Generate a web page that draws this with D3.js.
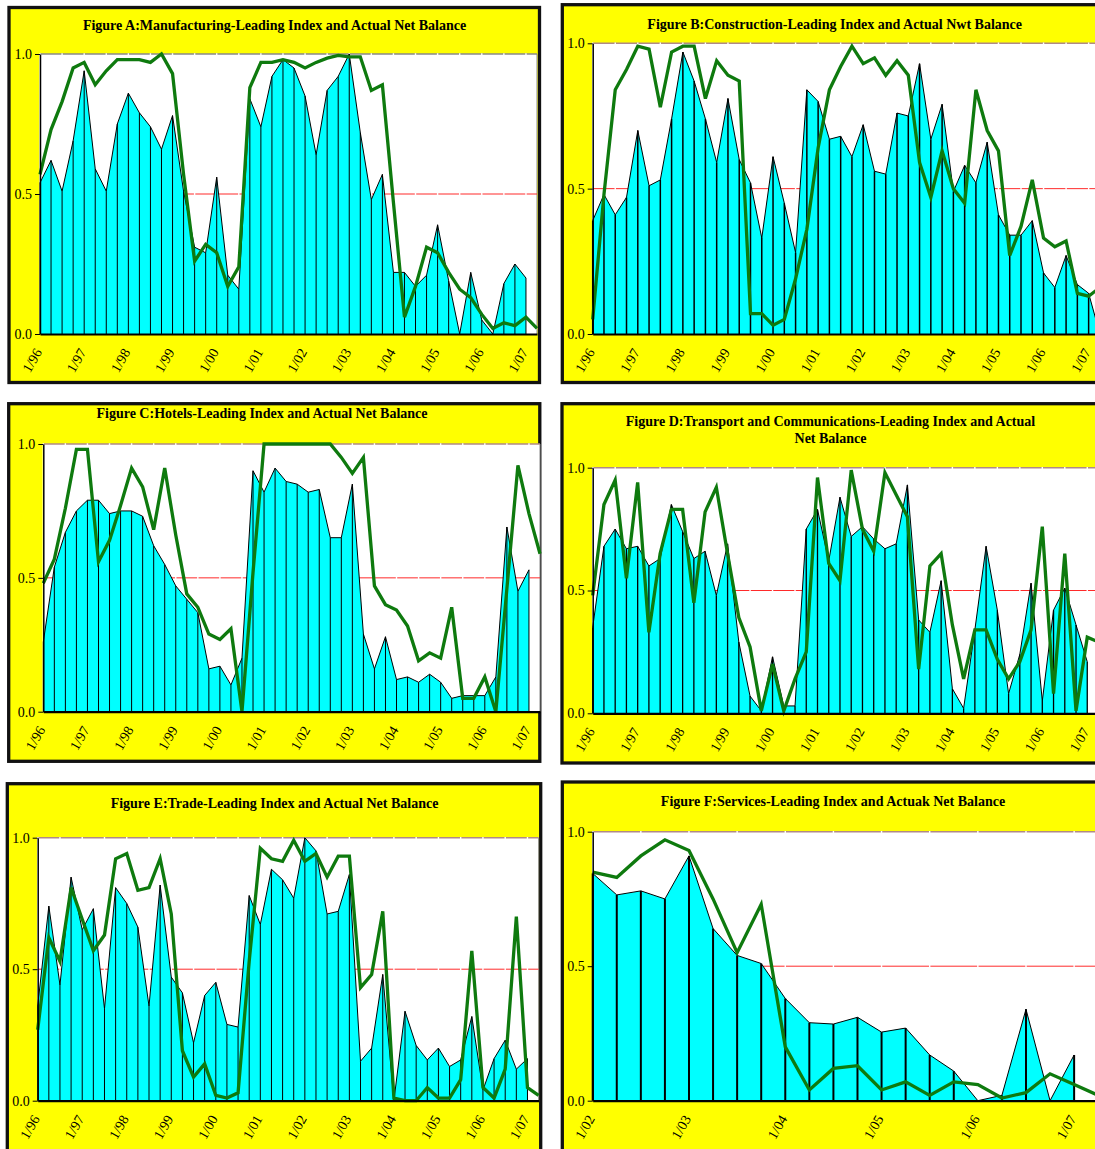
<!DOCTYPE html>
<html>
<head>
<meta charset="utf-8">
<script src="https://cdn.jsdelivr.net/npm/d3@7"></script>
<style>
  body { margin: 0; background: #fff; }
  svg text { font-family: "Liberation Serif", "Times New Roman", serif; fill: #000; }
</style>
</head>
<body>
<svg id="chart" width="1095" height="1149"></svg>
<script>
// Tick labels (quarterly series, a label every 4th quarter)
const labels96 = ["1/96", "1/97", "1/98", "1/99", "1/00", "1/01", "1/02", "1/03", "1/04", "1/05", "1/06", "1/07"];
const labels02 = ["1/02", "1/03", "1/04", "1/05", "1/06", "1/07"];

// Actual net balance (cyan area) and leading index (green line) for each figure
const areaA = [0.54,0.62,0.51,0.69,0.94,0.59,0.51,0.75,0.86,0.79,0.74,0.66,0.78,0.51,0.31,0.29,0.56,0.21,0.16,0.84,0.74,0.92,0.98,0.95,0.85,0.64,0.87,0.92,1.0,0.72,0.48,0.57,0.22,0.22,0.17,0.21,0.39,0.19,0.0,0.22,0.05,0.0,0.18,0.25,0.20];
const lineA = [0.57,0.73,0.83,0.95,0.97,0.89,0.94,0.98,0.98,0.98,0.97,1.0,0.93,0.57,0.26,0.32,0.29,0.17,0.24,0.88,0.97,0.97,0.98,0.97,0.95,0.97,0.985,0.995,0.99,0.99,0.87,0.89,0.47,0.06,0.17,0.31,0.29,0.22,0.16,0.13,0.07,0.02,0.04,0.03,0.06,0.02];

const areaB = [0.39,0.48,0.41,0.47,0.70,0.51,0.53,0.74,0.97,0.87,0.74,0.59,0.81,0.60,0.52,0.33,0.61,0.45,0.28,0.84,0.80,0.67,0.68,0.61,0.72,0.56,0.55,0.76,0.75,0.93,0.67,0.79,0.49,0.58,0.52,0.66,0.41,0.34,0.34,0.39,0.21,0.16,0.27,0.17,0.14,0.0];
const lineB = [0.05,0.48,0.84,0.91,0.99,0.98,0.78,0.97,0.99,0.99,0.81,0.94,0.89,0.87,0.07,0.07,0.03,0.05,0.19,0.36,0.64,0.84,0.92,0.99,0.93,0.95,0.89,0.94,0.89,0.59,0.47,0.63,0.50,0.45,0.84,0.70,0.63,0.27,0.37,0.53,0.33,0.30,0.32,0.14,0.13,0.16];

const areaC = [0.26,0.54,0.67,0.75,0.79,0.79,0.74,0.75,0.75,0.73,0.62,0.55,0.47,0.42,0.37,0.16,0.17,0.10,0.20,0.90,0.82,0.91,0.86,0.85,0.82,0.83,0.65,0.65,0.85,0.29,0.16,0.28,0.12,0.13,0.11,0.14,0.11,0.05,0.06,0.06,0.06,0.13,0.69,0.45,0.53];
const lineC = [0.48,0.57,0.76,0.98,0.98,0.56,0.64,0.77,0.91,0.84,0.68,0.91,0.66,0.44,0.39,0.29,0.27,0.31,0.0,0.52,1.0,1.0,1.0,1.0,1.0,1.0,1.0,0.95,0.89,0.95,0.47,0.40,0.38,0.32,0.19,0.22,0.20,0.39,0.05,0.05,0.13,0.0,0.46,0.92,0.74,0.59];

const areaD = [0.35,0.68,0.75,0.67,0.68,0.60,0.63,0.85,0.74,0.63,0.66,0.48,0.69,0.29,0.07,0.01,0.23,0.03,0.03,0.75,0.83,0.62,0.88,0.72,0.76,0.71,0.67,0.69,0.93,0.38,0.33,0.54,0.10,0.02,0.34,0.68,0.42,0.08,0.24,0.53,0.05,0.42,0.51,0.36,0.21];
const lineD = [0.48,0.85,0.95,0.55,0.94,0.33,0.65,0.83,0.83,0.45,0.82,0.92,0.65,0.39,0.27,0.01,0.20,0.01,0.14,0.25,0.96,0.61,0.54,0.99,0.75,0.66,0.98,0.89,0.80,0.18,0.60,0.65,0.36,0.14,0.34,0.34,0.22,0.14,0.21,0.34,0.76,0.08,0.65,0.01,0.31,0.29];

const areaE = [0.36,0.74,0.44,0.85,0.65,0.73,0.35,0.81,0.75,0.66,0.36,0.82,0.47,0.41,0.22,0.40,0.45,0.29,0.28,0.78,0.67,0.88,0.84,0.77,1.0,0.95,0.71,0.72,0.86,0.15,0.20,0.48,0.0,0.34,0.21,0.155,0.20,0.13,0.155,0.32,0.04,0.16,0.23,0.12,0.16];
const lineE = [0.27,0.62,0.53,0.81,0.69,0.57,0.63,0.92,0.94,0.80,0.81,0.92,0.71,0.19,0.09,0.14,0.02,0.01,0.03,0.53,0.96,0.92,0.91,0.99,0.91,0.94,0.85,0.93,0.93,0.43,0.48,0.72,0.01,0.0,0.0,0.05,0.01,0.01,0.08,0.57,0.05,0.01,0.12,0.70,0.05,0.02];

const areaF = [0.845,0.765,0.78,0.75,0.91,0.64,0.54,0.51,0.38,0.29,0.285,0.31,0.255,0.27,0.17,0.11,0.0,0.02,0.34,0.0,0.17];
const lineF = [0.85,0.83,0.91,0.97,0.93,0.75,0.55,0.73,0.20,0.04,0.12,0.13,0.04,0.07,0.02,0.07,0.06,0.01,0.03,0.10,0.06,0.02];

// Panel layout
const panels = [
  { title: ["Figure A:Manufacturing-Leading Index and Actual Net Balance"], tx: 274.5, ty: [30],
    frame: [9, 7.5, 530.5, 375], plot: { left: 40, right: 537, top: 54, bottom: 334 },
    area: areaA, line: lineA, labels: labels96, drop: 1, topColor: "#8a8a8a" },
  { title: ["Figure B:Construction-Leading Index and Actual Nwt Balance"], tx: 834.7, ty: [29],
    frame: [562.3, 4.7, 545, 377.8], plot: { left: 592.7, right: 1099.9, top: 43.3, bottom: 334 },
    area: areaB, line: lineB, labels: labels96, drop: 1.5, topColor: "#b08a86" },
  { title: ["Figure C:Hotels-Leading Index and Actual Net Balance"], tx: 262, ty: [418.3],
    frame: [8.7, 403.7, 531.1, 357.6], plot: { left: 43.3, right: 540, top: 444, bottom: 711.7 },
    area: areaC, line: lineC, labels: labels96, drop: 1, topColor: "#b08a86" },
  { title: ["Figure D:Transport and Communications-Leading Index and Actual", "Net Balance"], tx: 830.5, ty: [426, 442.7],
    frame: [562, 403.7, 548, 359.3], plot: { left: 592.7, right: 1098.5, top: 467.7, bottom: 713.3 },
    area: areaD, line: lineD, labels: labels96, drop: 1.3, topColor: "#b08a86" },
  { title: ["Figure E:Trade-Leading Index and Actual Net Balance"], tx: 274.5, ty: [807.7],
    frame: [7.3, 783.7, 533.4, 380], plot: { left: 37.7, right: 538.6, top: 837.7, bottom: 1100.7 },
    area: areaE, line: lineE, labels: labels96, drop: 1, topColor: "#b08a86" },
  { title: ["Figure F:Services-Leading Index and Actuak Net Balance"], tx: 833, ty: [806.3],
    frame: [562.3, 782, 548, 380], plot: { left: 592.7, right: 1098.2, top: 831.7, bottom: 1100.7 },
    area: areaF, line: lineF, labels: labels02, drop: 2, topColor: "#b08a86" }
];

const svg = d3.select("#chart");

panels.forEach(function(p) {
  const g = svg.append("g");
  const [fx, fy, fw, fh] = p.frame;

  // Yellow chart frame
  g.append("rect")
    .attr("x", fx).attr("y", fy).attr("width", fw).attr("height", fh)
    .attr("fill", "#ffff00")
    .attr("stroke", "#111").attr("stroke-width", 3.3);

  // Title (one or two lines)
  p.title.forEach((t, i) => {
    g.append("text")
      .attr("x", p.tx).attr("y", p.ty[i])
      .attr("text-anchor", "middle")
      .style("font-size", "14px")
      .style("font-weight", "bold")
      .text(t);
  });

  const x = d3.scaleLinear()
    .domain([0, p.line.length - 1])
    .range([p.plot.left, p.plot.right]);

  const y = d3.scaleLinear()
    .domain([0, 1])
    .range([p.plot.bottom, p.plot.top]);

  // Plot area
  g.append("rect")
    .attr("x", x(0)).attr("y", y(1))
    .attr("width", x(p.line.length - 1) - x(0))
    .attr("height", y(0) - y(1))
    .attr("fill", "#fff");

  // right edge of plot area
  g.append("line")
    .attr("x1", x(p.line.length - 1)).attr("x2", x(p.line.length - 1))
    .attr("y1", y(1)).attr("y2", y(0))
    .attr("stroke", "#8a8a8a").attr("stroke-width", 1);

  // top edge of plot area
  g.append("line")
    .attr("x1", x(0)).attr("x2", x(p.line.length - 1))
    .attr("y1", y(1)).attr("y2", y(1))
    .attr("stroke", p.topColor).attr("stroke-width", 1.5);

  // red reference line at 0.5
  g.append("line")
    .attr("x1", x(0)).attr("x2", x(p.line.length - 1))
    .attr("y1", y(0.5)).attr("y2", y(0.5))
    .attr("stroke", "#ff2a2a").attr("stroke-width", 1);

  // white vertical gridlines (they show up as gaps in the red/top lines)
  const gridIdx = d3.range(0, p.line.length, 2);
  g.append("g").selectAll("line")
    .data(gridIdx)
    .enter().append("line")
    .attr("x1", d => x(d)).attr("x2", d => x(d))
    .attr("y1", y(1) - 0.8).attr("y2", y(0))
    .attr("stroke", "#fff").attr("stroke-width", 1.4);

  // Actual net balance: cyan area
  const area = d3.area()
    .x((d, i) => x(i))
    .y0(y(0))
    .y1(d => y(d));

  g.append("path")
    .datum(p.area)
    .attr("d", area)
    .attr("fill", "#00ffff");

  g.append("path")
    .datum(p.area)
    .attr("d", d3.line().x((d, i) => x(i)).y(d => y(d)))
    .attr("fill", "none")
    .attr("stroke", "#000").attr("stroke-width", 1);

  // drop lines
  g.append("g").selectAll("line")
    .data(p.area)
    .enter().append("line")
    .attr("x1", (d, i) => x(i)).attr("x2", (d, i) => x(i))
    .attr("y1", d => y(d)).attr("y2", y(0))
    .attr("stroke", "#000").attr("stroke-width", p.drop);

  // Leading index: green line
  g.append("path")
    .datum(p.line)
    .attr("d", d3.line().x((d, i) => x(i)).y(d => y(d)))
    .attr("fill", "none")
    .attr("stroke", "#0e7a0e")
    .attr("stroke-width", 3.3)
    .attr("stroke-linejoin", "miter");

  // Y axis
  const yAxis = g.append("g")
    .attr("transform", "translate(" + x(0) + ",0)")
    .call(d3.axisLeft(y).tickValues([0, 0.5, 1]).tickFormat(d3.format(".1f")).tickSize(5).tickSizeOuter(0).tickPadding(3));
  yAxis.select(".domain").attr("stroke", "#000").attr("stroke-width", 1.5);
  yAxis.selectAll(".tick line").attr("stroke", "#000").attr("stroke-width", 1);
  yAxis.selectAll("text")
    .style("font-size", "14px")
    .style("font-family", "'Liberation Serif', 'Times New Roman', serif");

  // X axis
  const tickIdx = p.labels.map((d, i) => i * 4);
  const xAxis = g.append("g")
    .attr("transform", "translate(0," + y(0) + ")")
    .call(d3.axisBottom(x).tickValues(tickIdx).tickFormat((d, i) => p.labels[i]).tickSize(0).tickSizeOuter(0));
  xAxis.select(".domain").attr("stroke", "#000").attr("stroke-width", 2.2);
  xAxis.selectAll("text")
    .attr("x", 0).attr("y", 0).attr("dy", 0)
    .attr("text-anchor", "end")
    .attr("transform", "translate(2,18) rotate(-60)")
    .style("font-size", "14px")
    .style("font-family", "'Liberation Serif', 'Times New Roman', serif");
});
</script>
</body>
</html>
